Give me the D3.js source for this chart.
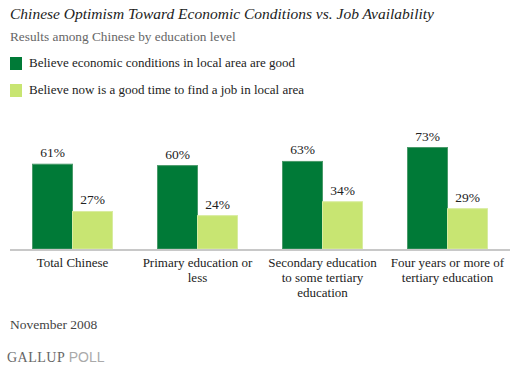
<!DOCTYPE html>
<html>
<head>
<meta charset="utf-8">
<script src="https://cdn.jsdelivr.net/npm/d3@7"></script>
<style>
  body { margin: 0; background: #fff; }
  svg { display: block; font-family: "Liberation Serif", serif; }
</style>
</head>
<body>
<div id="chart"></div>
<script>
// data
const categories = ['Total Chinese', 'Primary education or less', 'Secondary education to some tertiary education', 'Four years or more of tertiary education'];
const categoryLines = [
  ['Total Chinese'],
  ['Primary education or', 'less'],
  ['Secondary education', 'to some tertiary', 'education'],
  ['Four years or more of', 'tertiary education']
];
const seriesNames = ['Believe economic conditions in local area are good', 'Believe now is a good time to find a job in local area'];
const economyGood = [61, 60, 63, 73];
const jobGood = [27, 24, 34, 29];
const colors = ['#007a37', '#c8e572'];

const width = 516, height = 370;
const svg = d3.select('#chart').append('svg')
  .attr('width', width)
  .attr('height', height);

// titles
svg.append('text')
  .attr('x', 10).attr('y', 19)
  .style('font-style', 'italic')
  .style('font-size', '15.5px')
  .attr('fill', '#222')
  .text('Chinese Optimism Toward Economic Conditions vs. Job Availability');

svg.append('text')
  .attr('x', 10).attr('y', 41)
  .style('font-size', '13.3px')
  .attr('fill', '#666')
  .text('Results among Chinese by education level');

// legend
const legend = svg.selectAll('.legend-item')
  .data(seriesNames)
  .enter().append('g')
  .attr('class', 'legend-item')
  .attr('transform', (d, i) => `translate(10, ${57 + i * 27})`);

legend.append('rect')
  .attr('width', 12).attr('height', 13)
  .attr('fill', (d, i) => colors[i]);

legend.append('text')
  .attr('x', 19).attr('y', 10)
  .style('font-size', '13px')
  .attr('fill', '#222')
  .text(d => d);

// scales
const baseY = 249;
const x0 = d3.scaleBand().domain(categories).range([10, 510]);
const x1 = d3.scaleBand().domain([0, 1]).range([0, x0.bandwidth()]).paddingOuter(0.5625);
const y = d3.scaleLinear().domain([0, 100]).range([baseY, 110]);

const rows = categories.map((c, i) => ({ cat: c, values: [economyGood[i], jobGood[i]] }));

const groups = svg.selectAll('.group')
  .data(rows)
  .enter().append('g')
  .attr('class', 'group')
  .attr('transform', d => `translate(${x0(d.cat)},0)`);

groups.selectAll('rect')
  .data(d => d.values.map((v, i) => ({ v, i })))
  .enter().append('rect')
  .attr('x', d => x1(d.i))
  .attr('y', d => y(d.v))
  .attr('width', x1.bandwidth())
  .attr('height', d => y(0) - y(d.v))
  .attr('fill', d => colors[d.i])
  .attr('stroke', d => d.i === 0 ? '#4a9a6a' : '#d8eca0')
  .attr('stroke-width', 1);

groups.selectAll('.val')
  .data(d => d.values.map((v, i) => ({ v, i })))
  .enter().append('text')
  .attr('class', 'val')
  .attr('x', d => x1(d.i) + x1.bandwidth() / 2)
  .attr('y', d => y(d.v) - 7)
  .attr('text-anchor', 'middle')
  .style('font-size', '13.5px')
  .attr('fill', '#222')
  .text(d => d.v + '%');

// baseline axis
svg.append('line')
  .attr('x1', 10).attr('x2', 510)
  .attr('y1', baseY + 1).attr('y2', baseY + 1)
  .attr('stroke', '#c8c8c8')
  .attr('stroke-width', 2);

// category labels
groups.append('text')
  .attr('text-anchor', 'middle')
  .style('font-size', '13px')
  .attr('fill', '#222')
  .selectAll('tspan')
  .data((d, i) => categoryLines[i])
  .enter().append('tspan')
  .attr('x', x0.bandwidth() / 2)
  .attr('y', (d, j) => 267 + j * 15)
  .text(d => d);

// footer
svg.append('text')
  .attr('x', 10).attr('y', 329)
  .style('font-size', '13.5px')
  .attr('fill', '#444')
  .text('November 2008');

const logo = svg.append('text')
  .attr('x', 7).attr('y', 362)
  .style('font-size', '14px');
logo.append('tspan').attr('fill', '#666').style('letter-spacing', '0.5px').text('GALLUP ');
logo.append('tspan').attr('fill', '#aaa').style('font-family', '"Liberation Sans", sans-serif').text('POLL');
</script>
</body>
</html>
